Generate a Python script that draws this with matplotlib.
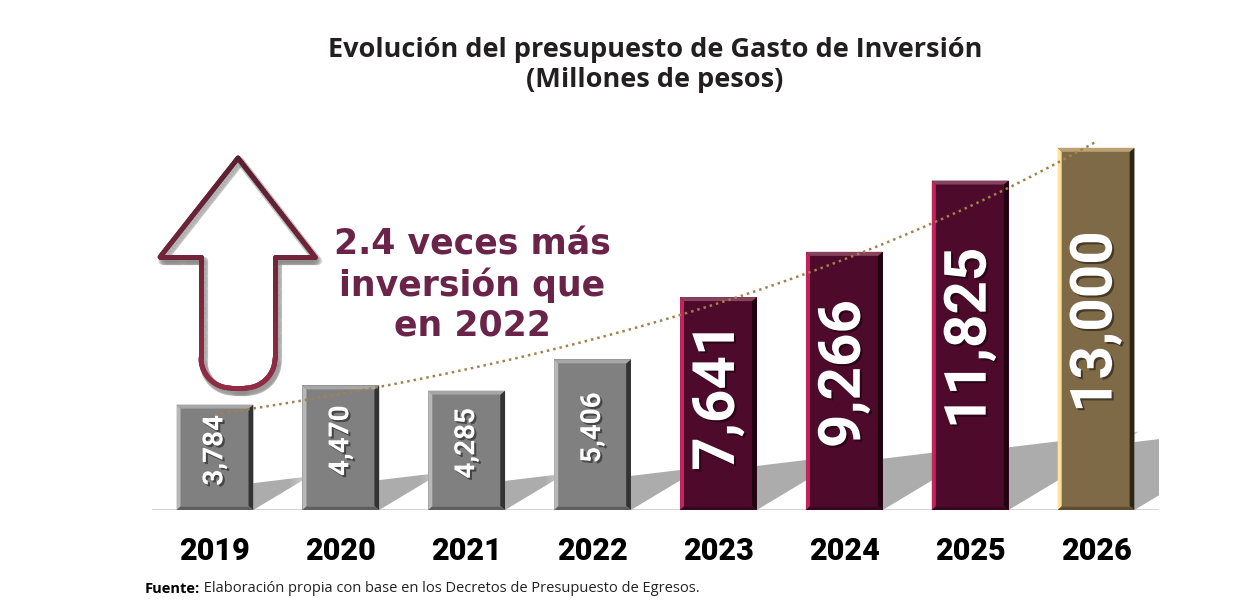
import numpy as np
import matplotlib
matplotlib.use("Agg")
import matplotlib.pyplot as plt
from matplotlib.patches import Polygon
from matplotlib.collections import LineCollection
from matplotlib.colors import to_rgb
import matplotlib.patheffects as pe

# datos ----------------------
years = ['2019', '2020', '2021', '2022', '2023', '2024', '2025', '2026']
budget = [3784, 4470, 4285, 5406, 7641, 9266, 11825, 13000]
bar_kind = ['gray', 'gray', 'gray', 'gray', 'wine', 'wine', 'wine', 'gold']

title = 'Evolución del presupuesto de Gasto de Inversión\n(Millones de pesos)'
callout = '2.4 veces más\ninversión que\nen 2022'
source_bold = 'Fuente:'
source_text = ' Elaboración propia con base en los Decretos de Presupuesto de Egresos.'

styles = {
    'gray': dict(face='#808080', left='#b8b8b8', top='#a6a6a6', right='#333333', bottom='#5e5e5e', size=20),
    'wine': dict(face='#4e0a2a', left='#c2245e', top='#86425f', right='#1f0410', bottom='#360720', size=42),
    'gold': dict(face='#7f6a47', left='#fde39a', top='#bba273', right='#2f2515', bottom='#5e4d31', size=42),
}

W, H = 1246, 610
fig = plt.figure(figsize=(W / 100, H / 100), dpi=100)
fig.patch.set_facecolor('white')

# capa de decoracion en pixeles
deco = fig.add_axes([0, 0, 1, 1], zorder=0)
deco.set_xlim(0, W)
deco.set_ylim(H, 0)
deco.axis('off')

ax_left, ax_right, ax_base, ax_top = 152, 1159, 100, 504
ax = fig.add_axes([ax_left / W, ax_base / H, (ax_right - ax_left) / W, (ax_top - ax_base) / H], zorder=1)
ax.patch.set_visible(False)
ymax = 14500
xi = np.arange(len(budget))
px_x = (ax_right - ax_left) / len(budget)      # pixeles por unidad x
val_px = ymax / (ax_top - ax_base)             # valor por pixel
width = 0.61

# sombras en el piso
for i, v in enumerate(budget):
    R = i + width / 2
    hp = v / val_px
    t = 10 + 0.16 * hp
    Lm = t / 0.48
    fade = 0.5 * hp + 20
    pts_px = [(0, 0), (0, t), (Lm, t + 0.12 * Lm)]
    pts = [(R + x / px_x, y * val_px) for x, y in pts_px]
    xs = [p[0] for p in pts]
    ys = [p[1] for p in pts]
    gx = np.linspace(0, Lm, 120)
    grad = np.zeros((30, 120, 4))
    grad[..., :3] = 0.66
    a_x = np.clip((fade - gx) / (0.5 * fade), 0, 1)
    grad[..., 3] = 0.95 * a_x[None, :]
    im = ax.imshow(grad, extent=[min(xs), max(xs), min(ys), max(ys)], origin='lower',
                   aspect='auto', zorder=1, interpolation='bilinear')
    im.set_clip_path(Polygon(pts, closed=True, transform=ax.transData))

# barras
colors = [styles[k]['face'] for k in bar_kind]
bars = ax.bar(xi, budget, width=width, color=colors, zorder=2)

# biseles
bx = 4 / px_x
by = 4 * val_px
for b, k in zip(bars, bar_kind):
    s = styles[k]
    Lx, Rx, h = b.get_x(), b.get_x() + b.get_width(), b.get_height()
    faces = {
        'left': [(Lx, 0), (Lx, h), (Lx + bx, h - by), (Lx + bx, by)],
        'right': [(Rx, 0), (Rx, h), (Rx - bx * 1.2, h - by), (Rx - bx * 1.2, by)],
        'top': [(Lx, h), (Rx, h), (Rx - bx * 1.2, h - by), (Lx + bx, h - by)],
        'bottom': [(Lx, 0), (Rx, 0), (Rx - bx * 1.2, by * 0.8), (Lx + bx, by * 0.8)],
    }
    for side, poly in faces.items():
        ax.add_patch(Polygon(poly, closed=True, facecolor=s[side], edgecolor='none', zorder=3))

# linea de tendencia (exponencial)
coef = np.polyfit(xi, np.log(budget), 1)
xt = np.linspace(0, len(budget) - 1, 300)
ax.plot(xt, np.exp(np.polyval(coef, xt)), ls=(0, (1, 1.6)), color='#a3804f', lw=1.8, zorder=4)

# etiquetas de valor
shadow = [pe.SimplePatchShadow(offset=(1.5, -1.5), shadow_rgbFace='black', alpha=0.45), pe.Normal()]
for i, (v, k) in enumerate(zip(budget, bar_kind)):
    ax.annotate(f'{v:,}', xy=(i, v / 2), xytext=(0, 5), textcoords='offset points',
                rotation=90, ha='center', va='center', color='white',
                fontsize=styles[k]['size'], fontweight='bold', family=['Roboto', 'DejaVu Sans'],
                path_effects=shadow, zorder=5)

ax.axhline(0, color='#d4d4d4', lw=1.5, zorder=0)
ax.set_xlim(-0.5, len(budget) - 0.5)
ax.set_ylim(0, ymax)
ax.set_xticks(xi)
ax.set_xticklabels(years, fontsize=22, fontweight='black', family=['Roboto', 'DejaVu Sans'], color='black')
ax.tick_params(axis='x', length=0, pad=19)
ax.set_yticks([])
for sp in ax.spines.values():
    sp.set_visible(False)

# flecha hueca
def seg(a, b, n=40):
    return list(zip(np.linspace(a[0], b[0], n), np.linspace(a[1], b[1], n)))

r = 30
tip, hl, hr = (238, 158), (160, 257), (315, 257)
sl, sr, bot, neck = 201, 275, 388, 257
pts = []
pts += seg(tip, hl)
pts += seg(hl, (sl, neck))
pts += seg((sl, neck), (sl, bot - r))
pts += [(sl + r + r * np.cos(a), bot - r + r * np.sin(a)) for a in np.linspace(np.pi, np.pi / 2, 30)]
pts += seg((sl + r, bot), (sr - r, bot))
pts += [(sr - r + r * np.cos(a), bot - r + r * np.sin(a)) for a in np.linspace(np.pi / 2, 0, 30)]
pts += seg((sr, bot - r), (sr, neck))
pts += seg((sr, neck), hr)
pts += seg(hr, tip)
pts = np.array(pts)
segs = np.stack([pts[:-1], pts[1:]], axis=1)

c_top, c_bot = np.array(to_rgb('#5a1f31')), np.array(to_rgb('#922c45'))
fy = (segs[:, :, 1].mean(axis=1) - tip[1]) / (bot - tip[1])
seg_colors = c_top[None, :] * (1 - fy[:, None]) + c_bot[None, :] * fy[:, None]

deco.add_collection(LineCollection(segs + np.array([2.5, 3.5]), colors='#888888', alpha=0.25,
                                   linewidths=6, capstyle='round', joinstyle='round'))
deco.add_collection(LineCollection(segs, colors=seg_colors, linewidths=3.6,
                                   capstyle='round', joinstyle='round'))

# textos
deco.text(655, 65, title, ha='center', va='center', fontsize=19.5, fontweight='bold',
          family=['Open Sans', 'DejaVu Sans'], color='#231f20', linespacing=1.2)
deco.text(472, 285, callout, ha='center', va='center', multialignment='center', fontsize=25,
          fontweight='bold', family=['DejaVu Sans'], color='#6b2449', linespacing=1.22)
t1 = deco.text(145, 589, source_bold, ha='left', va='center', fontsize=10.5, fontweight='bold',
               family=['Open Sans', 'DejaVu Sans'], color='black')
deco.annotate(source_text, xy=(1, 0.5), xycoords=t1, ha='left', va='center', fontsize=10.5,
              family=['Open Sans', 'DejaVu Sans'], color='#222222')

fig.savefig('out.png', dpi=100, facecolor='white')
